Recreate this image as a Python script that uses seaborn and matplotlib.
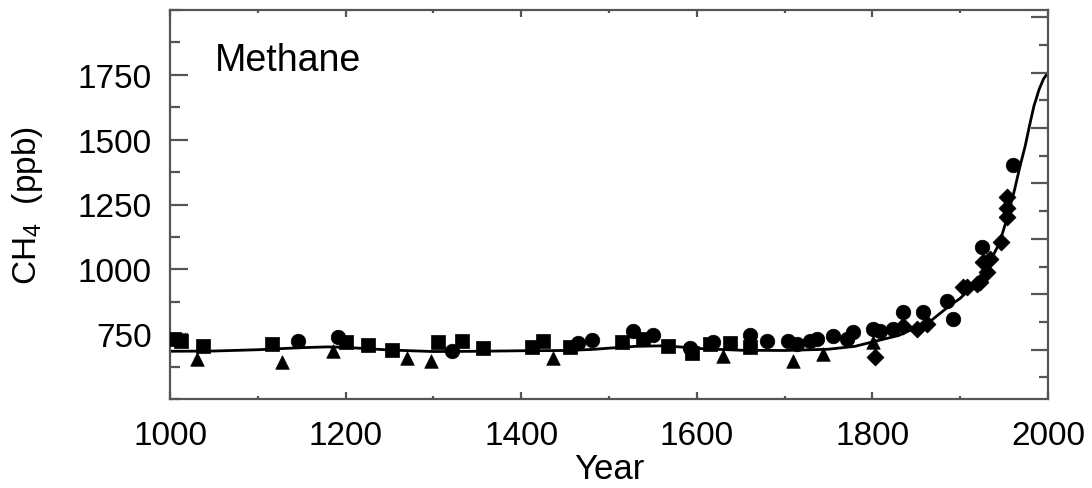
import matplotlib
matplotlib.use("Agg")
import matplotlib.pyplot as plt
from matplotlib.ticker import MultipleLocator, FixedLocator, NullFormatter
import seaborn as sns
import pandas as pd

# ---------------- data ----------------
curve_year = [1000, 1050, 1100, 1150, 1180, 1200, 1250, 1300, 1350, 1400, 1450, 1480,
              1500, 1530, 1560, 1580, 1600, 1650, 1700, 1750, 1780, 1800, 1830, 1866,
              1888, 1900, 1926, 1945, 1954, 1962, 1968, 1974, 1979, 1984, 1990, 1995, 2000]
curve_ppb = [684, 685, 690, 698, 701, 699, 689, 683, 684, 686, 687, 691,
             696, 703, 705, 701, 695, 688, 687, 692, 703, 720, 745, 800,
             860, 888, 975, 1104, 1204, 1308, 1396, 1475, 1555, 1630, 1695, 1735, 1758]

square_year = [1005, 1013, 1038, 1116, 1200, 1226, 1253, 1305, 1333, 1357, 1412, 1425,
               1456, 1515, 1539, 1567, 1595, 1615, 1638, 1661]
square_ppb = [732, 723, 704, 712, 719, 708, 688, 719, 723, 696, 700, 723,
              700, 719, 731, 704, 677, 712, 715, 700]

circle_year = [1146, 1191, 1321, 1465, 1481, 1527, 1550, 1592, 1618, 1661, 1680, 1704,
               1714, 1729, 1737, 1755, 1771, 1778, 1801, 1809, 1823, 1835, 1858, 1885,
               1892, 1925, 1960]
circle_ppb = [723, 738, 685, 715, 727, 762, 746, 696, 719, 746, 723, 723,
              712, 723, 731, 742, 731, 758, 769, 762, 769, 835, 835, 877,
              808, 1085, 1404]

triangle_year = [1031, 1127, 1186, 1270, 1297, 1436, 1630, 1710, 1744, 1801]
triangle_ppb = [654, 642, 685, 658, 646, 658, 665, 646, 673, 719]

diamond_year = [1803, 1835, 1851, 1862, 1903, 1908, 1919, 1922, 1926, 1930, 1934,
                1947, 1953, 1953, 1953]
diamond_ppb = [662, 781, 769, 790, 931, 931, 942, 950, 1027, 988, 1038,
               1104, 1200, 1238, 1277]

x_ticks = [1000, 1200, 1400, 1600, 1800, 2000]
y_ticks = [750, 1000, 1250, 1500, 1750]

# ---------------- style ----------------
sns.set_theme(style="white")
plt.rcParams["font.family"] = ["Liberation Sans", "DejaVu Sans"]
plt.rcParams["mathtext.fontset"] = "custom"
plt.rcParams["mathtext.rm"] = "Liberation Sans"
plt.rcParams["mathtext.it"] = "Liberation Sans"

fig = plt.figure(figsize=(10.92, 4.89), dpi=100)
ax = fig.add_axes([170 / 1092, 1 - 400 / 489, 878 / 1092, 389 / 489])

sns.lineplot(x=curve_year, y=curve_ppb, ax=ax, color="black", lw=2.0, sort=False)

sns.scatterplot(x=square_year, y=square_ppb, ax=ax, marker="s", s=100, color="black",
                edgecolor="black", linewidth=0.5, zorder=3)
sns.scatterplot(x=circle_year, y=circle_ppb, ax=ax, marker="o", s=110, color="black",
                edgecolor="black", linewidth=0.5, zorder=3)
sns.scatterplot(x=triangle_year, y=triangle_ppb, ax=ax, marker="^", s=95, color="black",
                edgecolor="black", linewidth=0.5, zorder=3)
sns.scatterplot(x=diamond_year, y=diamond_ppb, ax=ax, marker="D", s=75, color="black",
                edgecolor="black", linewidth=0.5, zorder=3)

ax.set_xlim(1000, 2000)
ax.set_ylim(500, 2000)

spine_col = "#555555"
for sp in ax.spines.values():
    sp.set_color(spine_col)
    sp.set_linewidth(1.6)

ax.xaxis.set_major_locator(FixedLocator(x_ticks))
ax.xaxis.set_minor_locator(MultipleLocator(100))
ax.yaxis.set_major_locator(FixedLocator(y_ticks))
ax.yaxis.set_minor_locator(MultipleLocator(125))
ax.set_xticklabels([str(v) for v in x_ticks])
ax.set_yticklabels([str(v) for v in y_ticks])

ax.tick_params(axis="x", which="major", direction="in", length=5, width=1.6,
               color=spine_col, top=True, bottom=True, labelsize=24, pad=15,
               labelcolor="black")
ax.tick_params(axis="x", which="minor", direction="in", length=2.5, width=1.6,
               color=spine_col, top=True, bottom=True)
ax.tick_params(axis="y", which="major", direction="in", length=13, width=1.6,
               color=spine_col, left=True, right=False, labelsize=24, pad=13,
               labelcolor="black")
ax.tick_params(axis="y", which="minor", direction="in", length=7, width=1.6,
               color=spine_col, left=True, right=False)

# right-hand axis (forcing scale, labels cropped in the reference)
ax2 = ax.twinx()
ax2.set_ylim(500, 2000)
ax2.yaxis.set_major_locator(MultipleLocator(213.5, offset=50))
ax2.yaxis.set_minor_locator(MultipleLocator(106.75, offset=50))
ax2.yaxis.set_major_formatter(NullFormatter())
ax2.tick_params(axis="y", which="major", direction="in", length=12, width=1.6,
                color=spine_col)
ax2.tick_params(axis="y", which="minor", direction="in", length=6.5, width=1.6,
                color=spine_col)
for sp in ax2.spines.values():
    sp.set_visible(False)

ax.set_xlabel("Year", fontsize=25, color="black")
ax.xaxis.set_label_coords(0.5, -0.135)
ax.xaxis.label.set_va("top")
ax.set_ylabel(r"CH$_\mathregular{4}$  (ppb)", fontsize=24, color="black")
ax.yaxis.set_label_coords(-0.142, 0.5)

ax.text(0.051, 0.845, "Methane", transform=ax.transAxes, fontsize=27,
        ha="left", va="baseline", color="black")

fig.savefig("out.png", dpi=100, facecolor="white")
